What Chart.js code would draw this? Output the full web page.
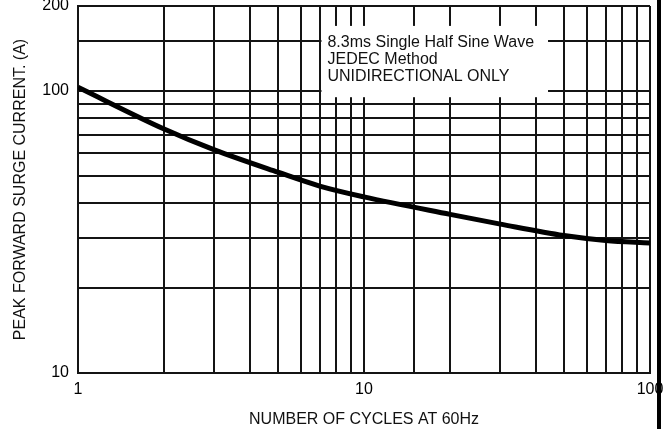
<!DOCTYPE html>
<html>
<head>
<meta charset="utf-8">
<script src="https://cdn.jsdelivr.net/npm/chart.js@4"></script>
<style>
  body { margin: 0; background: #fff; }
  #wrap { position: relative; width: 669px; height: 429px; }
  #edge { position: absolute; left: 657px; top: 0; width: 4px; height: 429px; background: #000; }
</style>
</head>
<body>
<div id="wrap">
  <canvas id="surgeChart" width="669" height="429"></canvas>
  <div id="edge"></div>
</div>
<script>
// cycles at 60Hz and peak surge current (A)
const ciclos = [1, 2, 3, 5, 7, 10, 20, 30, 50, 70, 100];
const corriente = [103, 73.3, 61.8, 51.5, 46, 42.1, 36.5, 33.7, 30.7, 29.5, 28.9];

const etiquetasX = [1, 10, 100];
const etiquetasY = [10, 100, 200];

const notaTexto = ['8.3ms Single Half Sine Wave', 'JEDEC Method', 'UNIDIRECTIONAL ONLY'];
const notaCaja = { xMin: 7.1, xMax: 44, yMin: 95, yMax: 170 };

const negro = '#141414';
const fuente = 'Liberation Sans, Arial, Helvetica, sans-serif';

// white box with the test conditions, drawn over the grid
const notaPlugin = {
    id: 'nota',
    beforeDatasetsDraw(chart) {
        const ctx = chart.ctx;
        const x = chart.scales.x, y = chart.scales.y;
        const left = x.getPixelForValue(notaCaja.xMin);
        const right = x.getPixelForValue(notaCaja.xMax);
        const top = y.getPixelForValue(notaCaja.yMax);
        const bottom = y.getPixelForValue(notaCaja.yMin);
        ctx.save();
        ctx.fillStyle = '#fff';
        ctx.fillRect(left, top, right - left, bottom - top);
        ctx.fillStyle = '#111';
        ctx.font = '16px ' + fuente;
        ctx.textBaseline = 'middle';
        notaTexto.forEach((linea, i) => {
            ctx.fillText(linea, left + 6, top + 17 + i * 17);
        });
        ctx.restore();
    }
};

new Chart(document.getElementById('surgeChart'), {
    type: 'line',
    data: {
        labels: ciclos,
        datasets: [{
            data: ciclos.map((c, i) => ({ x: c, y: corriente[i] })),
            borderColor: '#000',
            borderWidth: 5,
            pointRadius: 0,
            cubicInterpolationMode: 'monotone',
            fill: false
        }]
    },
    options: {
        responsive: false,
        animation: false,
        layout: { padding: { top: 6, right: 19, left: 0, bottom: 0 } },
        plugins: {
            legend: { display: false },
            tooltip: { enabled: false }
        },
        scales: {
            x: {
                type: 'logarithmic',
                min: 1,
                max: 100,
                afterFit: s => { s.height = 56; s.paddingLeft = 0; s.paddingRight = 0; },
                grid: { color: negro, lineWidth: 2, drawTicks: false },
                border: { color: negro, width: 2 },
                ticks: {
                    autoSkip: false,
                    maxRotation: 0,
                    padding: 7,
                    color: '#000',
                    font: { family: fuente, size: 16 },
                    callback: v => etiquetasX.includes(v) ? String(v) : ''
                },
                title: {
                    display: true,
                    text: 'NUMBER OF CYCLES AT 60Hz',
                    color: '#111',
                    font: { family: fuente, size: 16 },
                    padding: { top: 0, bottom: 0 }
                }
            },
            y: {
                type: 'logarithmic',
                min: 10,
                max: 200,
                afterFit: s => { s.width = 78; s.paddingTop = 0; s.paddingBottom = 0; },
                grid: { color: negro, lineWidth: 2, drawTicks: false },
                border: { color: negro, width: 2 },
                ticks: {
                    autoSkip: false,
                    padding: 9,
                    color: '#000',
                    font: { family: fuente, size: 16 },
                    callback: v => etiquetasY.includes(v) ? String(v) : ''
                },
                title: {
                    display: true,
                    text: 'PEAK FORWARD SURGE CURRENT. (A)',
                    color: '#111',
                    font: { family: fuente, size: 16 },
                    padding: { top: 11, bottom: 0 }
                }
            }
        }
    },
    plugins: [notaPlugin]
});
</script>
</body>
</html>
